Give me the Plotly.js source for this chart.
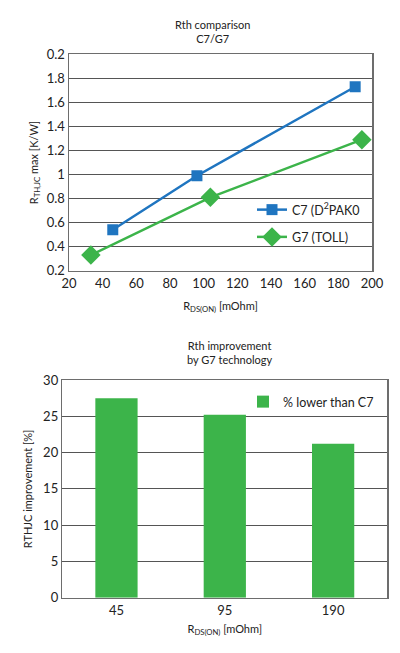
<!DOCTYPE html>
<html>
<head>
<meta charset="utf-8">
<script src="https://cdn.plot.ly/plotly-3.0.1.min.js"></script>
<style>html,body{margin:0;padding:0;background:#fff;}#chart{width:400px;height:653px;}</style>
</head>
<body>
<div id="chart"></div>
<script>
// ---- Data ----
var c7Rds = [46, 96, 190];
var c7Rth = [0.54, 0.99, 1.73];
var g7Rds = [33, 104, 194];
var g7Rth = [0.33, 0.81, 1.29];

var barCategories = ['45', '95', '190'];
var barImprovement = [27.5, 25.2, 21.2];

var topYTickVals = [0.2, 0.4, 0.6, 0.8, 1.0, 1.2, 1.4, 1.6, 1.8, 2.0];
var topYTickText = ['0.2', '0.4', '0.6', '0.8', '1', '1.2', '1.4', '1.6', '1.8', '0.2'];
var topXTickVals = [20, 40, 60, 80, 100, 120, 140, 160, 180, 200];
var barBoundaryTicks = [0.5, 1.5];

var FONT = 'Lato, "Open Sans", sans-serif';
var BLUE = '#1f75c0';
var GREEN = '#3cb44a';
var GRID = '#555555';
var FRAME = '#6d6d6d';

var traces = [
  {
    x: c7Rds, y: c7Rth, type: 'scatter', mode: 'lines+markers',
    name: 'C7 (D<sup>2</sup>PAK0', xaxis: 'x', yaxis: 'y',
    legend: 'legend', legendgroup: 'c7',
    line: {color: BLUE, width: 2.5},
    marker: {symbol: 'square', size: 11, color: BLUE}
  },
  {
    x: g7Rds, y: g7Rth, type: 'scatter', mode: 'lines+markers',
    name: 'G7 (TOLL)', xaxis: 'x', yaxis: 'y',
    legend: 'legend', legendgroup: 'g7',
    line: {color: GREEN, width: 2.5},
    marker: {symbol: 'diamond', size: 15, color: GREEN}
  },
  {
    x: barCategories, y: barImprovement, type: 'bar',
    name: '% lower than C7', xaxis: 'x2', yaxis: 'y2',
    legend: 'legend2',
    marker: {color: GREEN},
    width: 0.39
  }
];

var layout = {
  width: 400, height: 653,
  margin: {l: 0, r: 0, t: 0, b: 0},
  paper_bgcolor: '#ffffff', plot_bgcolor: '#ffffff',
  font: {family: FONT, size: 12, color: '#222222'},
  showlegend: true,
  xaxis: {
    domain: [69/400, 372/400], anchor: 'y',
    range: [20, 200], tickvals: topXTickVals,
    showgrid: false, zeroline: false,
    showline: true, mirror: true, linecolor: FRAME, linewidth: 1.5,
    ticks: '', tickfont: {size: 13},
    title: {text: 'R<sub>DS(ON)</sub> [mOhm]', font: {size: 11}, standoff: 12}
  },
  yaxis: {
    domain: [1 - 270.7/653, 1 - 54.3/653], anchor: 'x',
    range: [0.2, 2.0], tickvals: topYTickVals, ticktext: topYTickText,
    showgrid: true, gridcolor: GRID, gridwidth: 1, zeroline: false,
    showline: true, mirror: true, linecolor: FRAME, linewidth: 1.5,
    ticks: '', tickfont: {size: 13},
    title: {text: 'R<sub>TH,JC</sub> max [K/W]', font: {size: 11}, standoff: 6}
  },
  xaxis2: {
    domain: [62.3/400, 387.3/400], anchor: 'y2',
    type: 'category',
    ticks: '',
    showgrid: false, zeroline: false,
    showline: true, mirror: true, linecolor: FRAME, linewidth: 1.5,
    tickfont: {size: 13},
    title: {text: 'R<sub>DS(ON)</sub> [mOhm]', font: {size: 11}, standoff: 8}
  },
  xaxis3: {
    domain: [62.3/400, 387.3/400], anchor: 'y2', overlaying: 'x2',
    range: [-0.5, 2.5], tickvals: barBoundaryTicks,
    ticks: 'outside', ticklen: 6, tickwidth: 1, tickcolor: '#333333',
    showticklabels: false, showgrid: false, zeroline: false, showline: false
  },
  yaxis2: {
    domain: [1 - 597.7/653, 1 - 380/653], anchor: 'x2',
    range: [0, 30], dtick: 5,
    showgrid: true, gridcolor: GRID, gridwidth: 1, zeroline: false,
    showline: true, mirror: true, linecolor: FRAME, linewidth: 1.5,
    ticks: '', tickfont: {size: 13},
    title: {text: 'RTHJC improvement [%]', font: {size: 11}, standoff: 8}
  },
  legend: {
    x: 252/400, y: 1 - 195/653, xanchor: 'left', yanchor: 'top',
    bgcolor: 'rgba(0,0,0,0)', borderwidth: 0,
    font: {size: 12.5}, tracegroupgap: 8
  },
  legend2: {
    x: 243/400, y: 1 - 387/653, xanchor: 'left', yanchor: 'top',
    bgcolor: 'rgba(0,0,0,0)', borderwidth: 0,
    font: {size: 12.5}, itemwidth: 30
  },
  annotations: [
    {
      text: 'Rth comparison<br>C7/G7', xref: 'paper', yref: 'paper',
      x: 212/400, y: 1 - 31/653, xanchor: 'center', yanchor: 'middle',
      showarrow: false, font: {size: 11, color: '#222222'}
    },
    {
      text: 'Rth improvement<br>by G7 technology', xref: 'paper', yref: 'paper',
      x: 230/400, y: 1 - 352/653, xanchor: 'center', yanchor: 'middle',
      showarrow: false, font: {size: 11, color: '#222222'}
    }
  ]
};

Plotly.newPlot('chart', traces, layout, {displayModeBar: false, staticPlot: true});
</script>
</body>
</html>
